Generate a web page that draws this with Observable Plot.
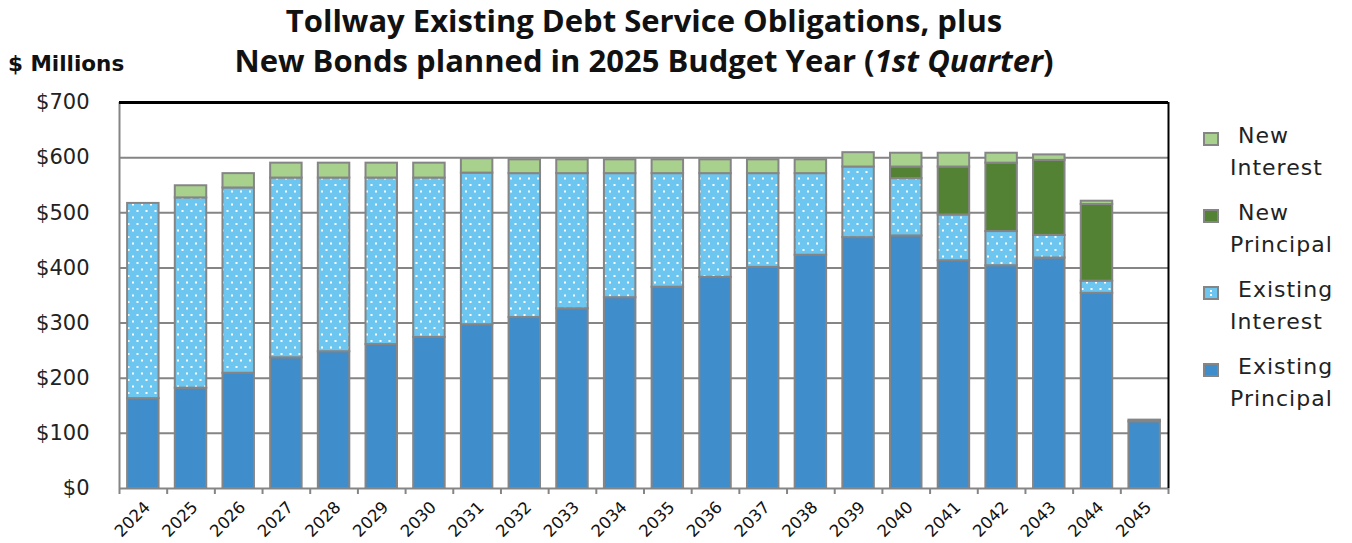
<!DOCTYPE html>
<html>
<head>
<meta charset="utf-8">
<script src="https://cdn.jsdelivr.net/npm/d3@7"></script>
<script src="https://cdn.jsdelivr.net/npm/@observablehq/plot@0.6"></script>
<style>
  body { margin: 0; background: #fff; }
  #wrap { position: relative; width: 1352px; height: 543px; overflow: hidden; }
  #wrap svg { position: absolute; left: 0; top: 0; }
  .title { position: absolute; left: 0; top: 0; width: 1288px; text-align: center;
           font-family: "Open Sans", sans-serif; font-weight: 700; font-size: 31px;
           line-height: 40px; color: #111; }
  .units { position: absolute; left: 8px; top: 54px; font-family: "DejaVu Sans", sans-serif;
           font-weight: 700; font-size: 21.5px; line-height: 20px; color: #111; }
  .legend { position: absolute; left: 1200px; top: 0; font-family: "DejaVu Sans", sans-serif;
            font-size: 22px; line-height: 32px; color: #222; letter-spacing: 1px; }
  .item { position: absolute; left: 0; width: 152px; }
  .item .sw { position: absolute; left: 3px; top: 12px; width: 16px; height: 14px; }
  .item .l1 { position: absolute; left: 38px; top: 0; white-space: nowrap; }
  .item .l2 { position: absolute; left: 30px; top: 32px; white-space: nowrap; }
</style>
</head>
<body>
<div id="wrap">
  <div class="title">Tollway Existing Debt Service Obligations, plus<br>New Bonds planned in 2025 Budget Year (<i>1st Quarter</i>)</div>
  <div class="units">$ Millions</div>
</div>
<script>
// ---- data (values in $ millions) ----
const years = ["2024","2025","2026","2027","2028","2029","2030","2031","2032","2033","2034",
               "2035","2036","2037","2038","2039","2040","2041","2042","2043","2044","2045"];
const existingPrincipal = [163,182,209,237,248,261,274,297,310,326,346,365,383,401,423,455,458,413,404,418,354,121];
const existingInterest  = [354,345,336,326,315,302,289,275,261,245,225,206,188,170,148,128,104,83,62,41,22,3];
const newPrincipal      = [0,0,0,0,0,0,0,0,0,0,0,0,0,0,0,0,21,87,124,136,139,0];
const newInterest       = [0,22,26,27,27,27,27,26,25,25,25,25,25,25,25,26,25,25,18,10,6,0];
const seriesNames = ["Existing Principal","Existing Interest","New Principal","New Interest"];
const yTicks = [0,100,200,300,400,500,600,700];
const gridTicks = [100,200,300,400,500,600];

const seriesValues = [existingPrincipal, existingInterest, newPrincipal, newInterest];
const rows = [];
years.forEach((yr, i) => {
  seriesNames.forEach((s, k) => {
    const v = seriesValues[k][i];
    if (v > 0) rows.push({year: yr, series: s, value: v});
  });
});

const W = 1352, H = 543, ML = 119, MR = 184, MT = 102, MB = 55;
const step = (W - ML - MR) / years.length;
const GRAY = "#858585";

const svg = Plot.plot({
  width: W, height: H,
  marginLeft: ML, marginRight: MR, marginTop: MT, marginBottom: MB,
  style: {background: "transparent"},
  x: {domain: years, paddingInner: 0.34, paddingOuter: 0.17, round: false, axis: null, label: null},
  y: {domain: [0, 700], axis: null, label: null},
  color: {domain: seriesNames, range: ["#408dcb", "url(#dots)", "#548235", "#a9d18e"]},
  marks: [
    Plot.ruleY(gridTicks, {stroke: GRAY, strokeWidth: 2}),
    Plot.barY(rows, {x: "year", y: "value", fill: "series", order: seriesNames,
                     stroke: GRAY, strokeWidth: 2}),
    Plot.ruleY([0], {stroke: GRAY, strokeWidth: 2}),
    Plot.ruleX([years[0]], {dx: -step / 2, stroke: GRAY, strokeWidth: 2}),
    Plot.ruleX([years[years.length - 1]], {dx: step / 2, stroke: "#000", strokeWidth: 2}),
    Plot.ruleY([700], {stroke: "#000", strokeWidth: 3}),
    Plot.axisX({ticks: years, tickSize: 6, tickFormat: () => "", label: null, dx: -step / 2, stroke: GRAY, strokeWidth: 2}),
    Plot.axisX({ticks: [years[years.length - 1]], tickSize: 6, tickFormat: () => "", label: null, dx: step / 2, stroke: GRAY, strokeWidth: 2}),
    Plot.axisX({ticks: years, tickSize: 0, tickPadding: 16, tickRotate: -45, label: null, dx: 4,
                fontSize: 16.5, fontFamily: "DejaVu Sans", fill: "#111"}),
    Plot.axisY({ticks: yTicks, tickSize: 0, tickPadding: 30, tickFormat: d => "$" + d, label: null,
                fontSize: 21, fontFamily: "DejaVu Sans", fill: "#222"})
  ]
});

d3.select(svg).insert("defs", ":first-child").html(
  `<pattern id="dots" width="9" height="13" patternUnits="userSpaceOnUse">
     <rect width="9" height="13" fill="#6cc6ef"/>
     <rect x="1.5" y="2" width="2" height="2" fill="#ffffff"/>
     <rect x="6" y="8.5" width="2" height="2" fill="#ffffff"/>
   </pattern>`);

const wrap = document.getElementById("wrap");
wrap.insertBefore(svg, wrap.firstChild);

// legend (top entry first, like the reference)
const legendOrder = [
  ["New", "Interest", "#a9d18e"],
  ["New", "Principal", "#548235"],
  ["Existing", "Interest", "dots"],
  ["Existing", "Principal", "#408dcb"]
];
const legend = document.createElement("div");
legend.className = "legend";
legendOrder.forEach(([a, b, c], i) => {
  const it = document.createElement("div");
  it.className = "item";
  it.style.top = (120 + 77 * i) + "px";
  const sw = c === "dots"
    ? `<svg class="sw" width="16" height="14" style="position:absolute;left:3px;top:12px"><rect x="1" y="1" width="14" height="12" fill="#6cc6ef" stroke="${GRAY}" stroke-width="2"/><rect x="7" y="4" width="2" height="2" fill="#fff"/><rect x="7" y="8" width="2" height="2" fill="#fff"/></svg>`
    : `<div class="sw" style="background:${c};border:2px solid ${GRAY};box-sizing:border-box"></div>`;
  it.innerHTML = sw + `<div class="l1">${a}</div><div class="l2">${b}</div>`;
  legend.appendChild(it);
});
wrap.appendChild(legend);
</script>
</body>
</html>
